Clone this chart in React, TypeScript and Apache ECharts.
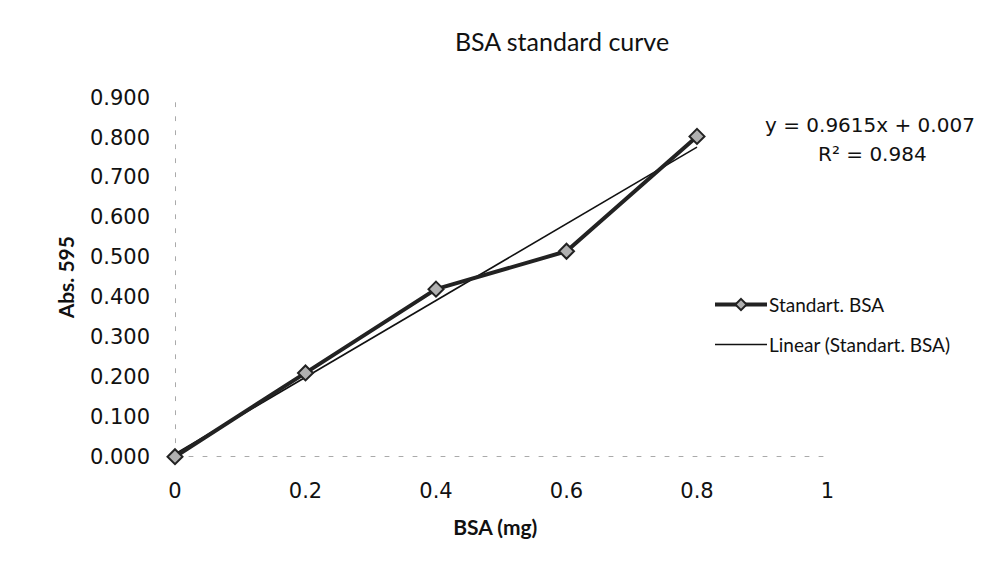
import React, { useEffect, useRef } from "react";
import * as echarts from "echarts";

const bsaMg = [0, 0.2, 0.4, 0.6, 0.8];
const absorbance = [0, 0.21, 0.42, 0.515, 0.803];
const trendX = [0, 0.8];
const trendY = [0.007, 0.7762];
const equationLines = ["y = 0.9615x + 0.007", "R² = 0.984"];
const seriesNames = ["Standart. BSA", "Linear (Standart. BSA)"];

export default function App() {
  const ref = useRef<HTMLDivElement>(null);
  useEffect(() => {
    if (!ref.current) return;
    const chart = echarts.init(ref.current, null, { renderer: "svg" });
    const tickFont = { fontFamily: "DejaVu Sans", fontSize: 21, color: "#111" };
    chart.setOption({
      animation: false,
      backgroundColor: "#fff",
      title: {
        text: "BSA standard curve",
        left: 557,
        top: 23,
        textAlign: "center",
        textStyle: { fontFamily: "Lato", fontSize: 25, fontWeight: "normal", color: "#111" },
      },
      grid: { left: 175, right: 177.5, top: 97.7, bottom: 111.3, containLabel: false },
      legend: {
        orient: "vertical",
        left: 713,
        top: 295,
        padding: 0,
        itemWidth: 52,
        itemHeight: 14,
        itemGap: 21,
        textStyle: { fontFamily: "Lato", fontSize: 19, color: "#111", padding: [0, 0, 0, -3] },
        data: [
          { name: seriesNames[0], lineStyle: { width: 4, color: "#222" } },
          {
            name: seriesNames[1],
            itemStyle: { color: "transparent", borderWidth: 0, opacity: 0 },
            lineStyle: { width: 1.6, color: "#111" },
          },
        ],
      },
      xAxis: {
        type: "value",
        min: 0,
        max: 1,
        interval: 0.2,
        name: "BSA (mg)",
        nameLocation: "middle",
        nameGap: 59,
        nameTextStyle: { fontFamily: "Lato", fontSize: 21, fontWeight: "bold", color: "#111", padding: [0, 12, 0, 0] },
        axisLine: { show: true, lineStyle: { color: "#aaa", width: 1, type: [4, 10] } },
        axisTick: { show: false },
        splitLine: { show: false },
        axisLabel: { ...tickFont, margin: 24, formatter: (v: number) => String(Math.round(v * 10) / 10) },
      },
      yAxis: {
        type: "value",
        min: 0,
        max: 0.9,
        interval: 0.1,
        name: "Abs. 595",
        nameLocation: "middle",
        nameGap: 99,
        nameRotate: 90,
        nameTextStyle: { fontFamily: "Lato", fontSize: 21, fontWeight: "bold", color: "#111" },
        axisLine: { show: true, lineStyle: { color: "#aaa", width: 1, type: [4, 10] } },
        axisTick: { show: false },
        splitLine: { show: false },
        axisLabel: { ...tickFont, margin: 25, formatter: (v: number) => v.toFixed(3) },
      },
      series: [
        {
          name: seriesNames[0],
          type: "line",
          data: bsaMg.map((x, i) => [x, absorbance[i]]),
          symbol: "diamond",
          symbolSize: 15,
          lineStyle: { color: "#222", width: 4 },
          itemStyle: { color: "#b0b0b0", borderColor: "#222", borderWidth: 2 },
          z: 3,
        },
        {
          name: seriesNames[1],
          type: "line",
          data: trendX.map((x, i) => [x, trendY[i]]),
          symbol: "none",
          lineStyle: { color: "#111", width: 1.6 },
          itemStyle: { color: "#111" },
          z: 2,
        },
      ],
      graphic: [
        {
          type: "text",
          left: 765,
          top: 115,
          style: { text: equationLines[0], font: '20px "DejaVu Sans"', fill: "#111" },
        },
        {
          type: "text",
          left: 818,
          top: 144,
          style: { text: equationLines[1], font: '20px "DejaVu Sans"', fill: "#111" },
        },
      ],
    });
    return () => chart.dispose();
  }, []);
  return (
    <div
      ref={ref}
      style={{ position: "fixed", left: 0, top: 0, width: 1005, height: 568 }}
    />
  );
}
